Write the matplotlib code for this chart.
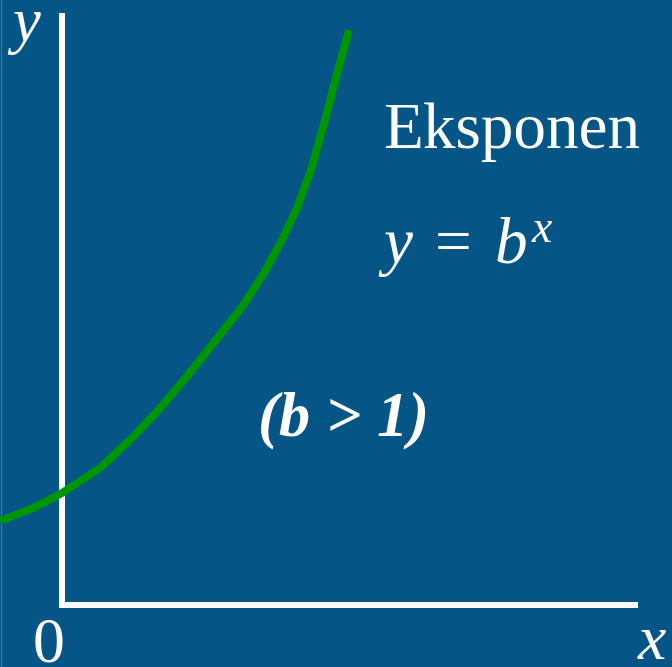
import matplotlib.pyplot as plt

# green curve (units of the drawn axes, origin at the corner)
curve_x = [-0.62, -0.29, 0.00, 0.38, 0.71, 1.00, 1.26, 1.54, 1.80, 2.02, 2.20,
           2.35, 2.49, 2.63, 2.76, 2.87]
curve_y = [0.84, 0.97, 1.12, 1.37, 1.68, 1.99, 2.30, 2.65, 2.98, 3.32, 3.65,
           3.97, 4.35, 4.85, 5.35, 5.75]

# extent of the white axis lines
axis_x_end = 5.76
axis_y_end = 5.92

title_text = 'Eksponen'
formula_text = r'$y\;=\;b^{x}$'
cond_text = '(b > 1)'

BG = '#055587'
W, H = 672, 667

plt.rcParams['font.family'] = ['Liberation Serif', 'DejaVu Serif']
plt.rcParams['mathtext.fontset'] = 'custom'
plt.rcParams['mathtext.rm'] = 'Liberation Serif'
plt.rcParams['mathtext.it'] = 'Liberation Serif:italic'

fig = plt.figure(figsize=(W / 100, H / 100), dpi=100, facecolor=BG)
ax = fig.add_axes([0, 0, 1, 1])
ax.set_facecolor(BG)
ax.set_xlim(-0.62, -0.62 + W / 100)
ax.set_ylim(-0.62, -0.62 + H / 100)
ax.axis('off')

# thin strip on the left edge
ax.axvline(-0.615, color='#2a86b0', lw=0.8)

# axes drawn as one L shaped line
ax.plot([0, 0, axis_x_end], [axis_y_end, 0, 0], color='white', lw=4.3,
        solid_joinstyle='miter', solid_capstyle='butt')

ax.plot(curve_x, curve_y, color='#009600', lw=5.6,
        solid_joinstyle='round', solid_capstyle='butt')


def px(x, y):
    return x / W, 1 - y / H


fig.text(*px(12, 41), 'y', color='white', fontsize=45, style='italic', va='baseline')
fig.text(*px(383, 148), title_text, color='white', fontsize=47, va='baseline')
fig.text(*px(378, 263), formula_text, color='white', fontsize=47, va='baseline')
fig.text(*px(258, 435), cond_text, color='white', fontsize=45, style='italic',
         weight='bold', va='baseline')
fig.text(*px(33, 661), '0', color='white', fontsize=46, va='baseline')
fig.text(*px(638, 659), 'x', color='white', fontsize=46, style='italic', va='baseline')

fig.savefig('out.png', dpi=100, facecolor=BG)
